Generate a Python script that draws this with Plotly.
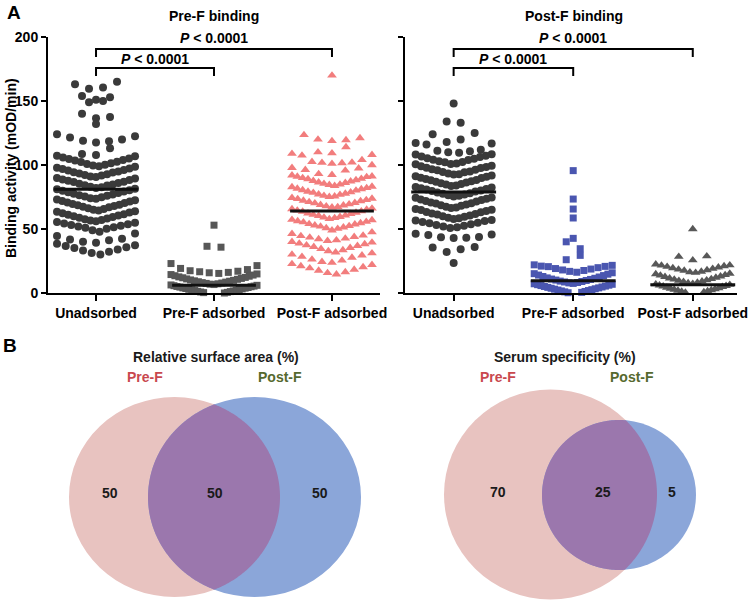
import numpy as np
import plotly.graph_objects as go

# ---------------- data ----------------
categories = ["Unadsorbed", "Pre-F adsorbed", "Post-F adsorbed"]
panel_titles = ["Pre-F binding", "Post-F binding"]
y_ticks = [0, 50, 100, 150, 200]
p_text = "<i>P</i> < 0.0001"

pref_unadsorbed = [
    165, 163, 160.5, 159.5, 154, 153, 151, 150, 149, 140, 137.5, 136.5, 132, 124, 122.5, 121.5,
    120, 119, 118.5, 117.5, 113, 108.5, 107.8, 107.2, 106.8,
    105.9, 105.1, 104.7, 103.9, 103.5, 102.6, 102.3, 101.4, 100.8, 100.2, 99.7, 99.0,
    98.6, 97.9, 97.3, 96.9, 96.1, 95.7, 95.0, 94.4, 94.1, 93.3, 92.8, 92.2,
    91.7, 91.0, 90.6, 89.8, 89.5, 88.7, 88.2, 87.6, 87.0, 86.7, 85.9, 85.4,
    84.8, 84.2, 83.9, 83.1, 82.6, 82.0, 81.5, 81.1, 80.3, 79.9, 79.2, 78.7,
    78.1, 77.6, 77.0, 76.4, 76.0, 75.3, 74.8, 74.1, 73.7, 73.0, 72.5, 71.9,
    71.4, 70.7, 70.3, 69.6, 69.0, 68.6, 67.9, 67.3, 66.9, 66.2, 65.6, 65.1,
    64.5, 63.9, 63.4, 62.8, 62.3, 61.6, 61.1, 60.6, 59.9, 59.4, 58.8, 58.3,
    57.7, 57.1, 56.6, 56.0, 55.5, 54.9, 54.3, 53.8, 53.1, 52.6, 52.0, 51.3,
    50.9, 50.1, 49.0, 47.8, 46.5, 44.6, 42.3, 41.8, 41.2,
    40.0, 39.3, 38.5, 37.4, 36.8, 35.7, 35.1, 34.0, 33.3, 32.2, 31.3, 30.1,
]
pref_preF_adsorbed = [
    53.0, 36.5, 35.8, 23.0, 21.4, 19.2, 18.3,
    17.4, 17.0, 16.6, 16.1, 15.8, 15.3, 14.9, 14.4, 14.0, 13.5, 13.1, 12.6,
    12.2, 11.9, 11.4, 11.0, 10.7, 10.2, 9.9, 9.5, 9.2, 8.8, 8.5, 8.1,
    7.8, 7.5, 7.2, 6.9, 6.6, 6.3, 6.0, 5.7, 5.4, 5.1, 4.9, 4.6,
    4.3, 4.0, 3.8, 3.5, 3.2, 2.9, 2.7, 2.4, 2.1, 1.9, 1.6, 1.3,
    1.1, 0.8, 0.5, 0.3, 0.0, -0.3, -0.6, -0.9, -1.3, -1.7, -2.2,
]
pref_postF_adsorbed = [
    170, 123.5, 121, 120, 119.5, 118.8, 114, 110, 109.2, 108.8, 108, 107.5, 104, 102.5,
    102, 101.8, 101.5, 101, 100, 97.8, 97.4, 96.2, 95.8, 91.2,
    93.0, 92.3, 91.9, 91.0, 90.7, 89.9, 89.3, 89.0, 88.2, 87.6, 87.3, 86.5,
    86.1, 85.4, 84.8, 84.5, 83.7, 83.2, 82.8, 82.1, 81.6, 81.2, 80.4, 80.1,
    79.3, 78.8, 78.4, 77.7, 77.1, 76.8, 76.0, 75.5, 75.1, 74.4, 73.8, 73.5,
    72.7, 72.2, 71.8, 71.1, 70.5, 70.2, 69.4, 68.9, 68.5, 67.8, 67.2, 66.9,
    66.1, 65.6, 65.2, 64.5, 63.9, 63.6, 62.8, 62.3, 61.9, 61.2, 60.6, 60.3,
    59.5, 59.0, 58.6, 57.9, 57.3, 57.0, 56.2, 55.7, 55.3, 54.6, 54.0, 53.7,
    52.9, 52.4, 52.0, 51.3, 50.7, 50.2,
    49.0, 47.5, 46.2, 45.0,
    44.6, 43.9, 43.4, 42.6, 42.1, 41.3, 40.8, 40.0, 39.5, 38.7, 38.2, 37.4, 36.9, 36.1,
    35.3, 34.5, 33.5, 32.8, 31.8, 31.1, 30.1, 29.4, 28.4, 27.7,
    26.2, 25.4, 24.4, 23.7, 22.7, 22.0, 21.0, 20.3, 19.4,
    18.3, 17.5, 16.4, 15.7, 14.6,
]
postf_unadsorbed = [
    148, 134, 133, 125, 124, 120, 118, 117.2, 116.8, 116,
    112.0, 111.1, 110.8, 109.9, 109.5, 108.4, 108.2, 107.3, 106.6, 106.3, 105.2, 104.9,
    104.1, 103.9, 103.0, 102.4, 102.1, 101.2, 100.8, 100.5, 99.4, 99.1, 98.5, 97.8,
    97.6, 96.7, 96.2, 95.9, 95.0, 94.6, 94.3, 93.4, 92.8, 92.6, 91.7, 91.2,
    90.9, 90.0, 89.8, 89.1, 88.3, 88.0, 87.4, 86.9, 86.3, 85.8, 85.1, 84.7,
    84.0, 83.6, 82.9, 82.5, 81.8, 81.3, 80.9, 80.1, 79.7, 79.2, 78.6, 78.0,
    77.5, 77.0, 76.4, 75.9, 75.3, 74.6, 74.4, 73.6, 73.0, 72.7, 71.9, 71.5,
    70.8, 70.2, 69.9, 69.1, 68.5, 68.2, 67.4, 66.8, 66.5, 65.7, 65.0, 64.8,
    64.0, 63.3, 63.1, 62.2, 61.7, 61.4, 60.5, 60.0, 59.6, 58.8, 58.4, 57.9,
    57.1, 56.6, 56.2, 55.5, 54.8, 54.5, 53.7, 53.2, 52.6, 52.0, 51.4, 50.7,
    46.2, 45.8, 45.4, 43.8, 43.5, 43.2, 42.9, 35.9, 35.5, 34.2, 32.1, 23.4,
]
postf_preF_adsorbed = [
    95.6, 73.4, 65.6, 58.6, 42.7, 40.0, 34.6, 29.4, 26.0, 22.0, 21.6, 20.8, 20.6, 21.0,
    19.8, 19.1, 18.7, 18.0, 17.6, 16.9, 16.2, 15.8, 15.1, 14.7, 14.0, 13.6,
    12.9, 12.5, 11.8, 11.5, 10.9, 10.6, 10.1, 9.8, 9.3, 9.0, 8.6, 8.2,
    7.9, 7.5, 7.2, 6.8, 6.5, 6.1, 5.8, 5.4, 5.1, 4.7, 4.4, 4.0,
    3.7, 3.3, 3.0, 2.6, 2.3, 1.9, 1.6, 1.2, 0.9, 0.5, 0.2, -0.2, -0.6, -1.1,
]
postf_postF_adsorbed = [
    50.0, 28.8, 28.4, 25.6, 22.4, 21.7,
    21.5, 21.0, 20.6, 20.1, 19.5, 19.0, 18.4, 17.9, 17.5, 16.8, 16.3, 15.9,
    15.2, 14.8, 14.1, 13.7, 13.0, 12.6, 12.1, 11.5, 11.0, 10.6, 10.0, 9.6,
    9.1, 8.7, 8.2, 7.8, 7.3, 6.9, 6.5, 6.0, 5.6, 5.2, 4.8, 4.3,
    3.9, 3.5, 3.1, 2.7, 2.3, 1.9, 1.5, 1.1, 0.7, 0.3, -0.1, -0.5, -1.0, -1.5,
]
pref_means = [81, 6, 64]
postf_means = [79, 9.5, 6.5]

venn_titles = ["Relative surface area (%)", "Serum specificity (%)"]
venn_set_names = ["Pre-F", "Post-F"]
venn_left_values = [50, 50, 50]
venn_right_values = [70, 25, 5]

# ---------------- styling / layout constants ----------------
W, H = 750, 601
FONT = "Liberation Sans, Arial, Helvetica, sans-serif"
PX_LEFT = (48, 380)
PX_RIGHT = (405, 737)
PY = (37, 293)          # top (200) , bottom (0)
XR_LEFT = [-0.407, 2.407]
XR_RIGHT = [-0.407, 2.370]
YR = [0, 200]
ROW_PX = 11.0           # GraphPad-like row height
MAX_STEP_PX = 14.0      # widest spacing in sparse rows

marker_styles = [
    [dict(symbol="circle", color="#3a3a3a", size=8, width=78),
     dict(symbol="square", color="#575757", size=7, width=86),
     dict(symbol="triangle-up", color="#F27D7D", size=8.5, width=80)],
    [dict(symbol="circle", color="#3a3a3a", size=8, width=76),
     dict(symbol="square", color="#4A56B0", size=7, width=78),
     dict(symbol="triangle-up", color="#585858", size=8.5, width=74)],
]

ypx_per_unit = (PY[1] - PY[0]) / (YR[1] - YR[0])


def row_swarm(values, max_width):
    """GraphPad-like scatter: points binned in rows, lowest value in the middle."""
    vals = np.asarray(values, float)
    h = ROW_PX / ypx_per_unit
    rows = np.floor((vals - vals.min()) / h).astype(int)
    xs = np.zeros(len(vals))
    for r in np.unique(rows):
        idx = np.where(rows == r)[0]
        idx = idx[np.argsort(vals[idx], kind="stable")]
        n = len(idx)
        d = 0.0 if n < 2 else min(MAX_STEP_PX, max_width / (n - 1))
        slots = (np.arange(n) - (n - 1) / 2.0) * d
        order = sorted(range(n), key=lambda k: (round(abs(slots[k]), 6), slots[k] * (1 if r % 2 else -1)))
        for j, k in enumerate(order):
            xs[idx[j]] = slots[k]
    return xs


fig = go.Figure()

panels = [
    dict(xa="x", ya="y", px=PX_LEFT, xr=XR_LEFT,
         data=[pref_unadsorbed, pref_preF_adsorbed, pref_postF_adsorbed], means=pref_means),
    dict(xa="x2", ya="y2", px=PX_RIGHT, xr=XR_RIGHT,
         data=[postf_unadsorbed, postf_preF_adsorbed, postf_postF_adsorbed], means=postf_means),
]

shapes = []
annotations = []

for pi, p in enumerate(panels):
    xpx_per_unit = (p["px"][1] - p["px"][0]) / (p["xr"][1] - p["xr"][0])
    for ci, vals in enumerate(p["data"]):
        ms = marker_styles[pi][ci]
        offs = row_swarm(vals, ms["width"]) / xpx_per_unit
        fig.add_trace(go.Scatter(
            x=ci + offs, y=vals, mode="markers", xaxis=p["xa"], yaxis=p["ya"],
            marker=dict(symbol=ms["symbol"], color=ms["color"], size=ms["size"], line=dict(width=0)),
            cliponaxis=False, showlegend=False, hoverinfo="skip"))
    for ci, m in enumerate(p["means"]):
        fig.add_trace(go.Scatter(
            x=[ci - 0.355, ci + 0.355], y=[m, m], mode="lines", xaxis=p["xa"], yaxis=p["ya"],
            line=dict(color="#111111", width=3), cliponaxis=False, showlegend=False, hoverinfo="skip"))
    brackets = [(0, 2, 190.6, 184.4, 199.0), (0, 1, 175.8, 169.5, 182.8)]
    for (a, b, yb, yl, yt) in brackets:
        shapes.append(dict(type="path", xref=p["xa"], yref=p["ya"],
                           path=f"M {a},{yl} L {a},{yb} L {b},{yb} L {b},{yl}",
                           line=dict(color="black", width=2)))
        annotations.append(dict(x=(a + b) / 2, y=yt, xref=p["xa"], yref=p["ya"], text=f"<b>{p_text}</b>",
                                showarrow=False, font=dict(size=14, color="black", family=FONT),
                                xanchor="center", yanchor="middle"))

fig.add_trace(go.Scatter(x=[0], y=[0], xaxis="x3", yaxis="y3", mode="markers",
                         marker=dict(opacity=0), showlegend=False, hoverinfo="skip"))

PINK = "#E8C3C0"
BLUE = "#8BA6D9"
PURPLE = "#9B77AD"


def ellipse_pts(cx, cy, rx, ry, n=720):
    t = np.linspace(0, 2 * np.pi, n, endpoint=False)
    return cx + rx * np.cos(t), cy + ry * np.sin(t)


def inside(x, y, cx, cy, rx, ry):
    return ((x - cx) / rx) ** 2 + ((y - cy) / ry) ** 2 <= 1.0


venns = [
    dict(a=(174.5, 497, 105.5, 100), b=(254.5, 497, 106.5, 100), title_xy=(216, 357),
         names_xy=[(145, 377), (280, 377)], vals=venn_left_values,
         vals_x=[110, 215, 320], vals_y=493, title=venn_titles[0]),
    dict(a=(550.5, 494.5, 106.5, 105), b=(619, 495, 77, 75), title_xy=(565, 357),
         names_xy=[(498, 377), (632, 377)], vals=venn_right_values,
         vals_x=[498, 603, 672], vals_y=492, title=venn_titles[1]),
]
for v in venns:
    for (cx, cy, rx, ry), col in [(v["a"], PINK), (v["b"], BLUE)]:
        shapes.append(dict(type="circle", xref="x3", yref="y3", x0=cx - rx, x1=cx + rx,
                           y0=cy - ry, y1=cy + ry, fillcolor=col, line=dict(width=0), layer="above"))
    ax, ay = ellipse_pts(*v["a"])
    bx, by = ellipse_pts(*v["b"])
    m1 = inside(ax, ay, *v["b"])
    m2 = inside(bx, by, *v["a"])
    lx = np.concatenate([ax[m1], bx[m2]])
    ly = np.concatenate([ay[m1], by[m2]])
    cxm, cym = lx.mean(), ly.mean()
    o = np.argsort(np.arctan2(ly - cym, lx - cxm))
    lx, ly = lx[o], ly[o]
    path = "M " + " L ".join(f"{x:.2f},{y:.2f}" for x, y in zip(lx, ly)) + " Z"
    shapes.append(dict(type="path", xref="x3", yref="y3", path=path, fillcolor=PURPLE,
                       line=dict(width=0), layer="above"))
    annotations.append(dict(x=v["title_xy"][0], y=v["title_xy"][1], xref="x3", yref="y3",
                            text=f"<b>{v['title']}</b>", showarrow=False,
                            font=dict(size=14, color="#1a1a1a", family=FONT)))
    for (nx, ny), name, col in zip(v["names_xy"], venn_set_names, ["#C9484E", "#56692E"]):
        annotations.append(dict(x=nx, y=ny, xref="x3", yref="y3", text=f"<b>{name}</b>", showarrow=False,
                                font=dict(size=14, color=col, family=FONT)))
    for xv, val in zip(v["vals_x"], v["vals"]):
        annotations.append(dict(x=xv, y=v["vals_y"], xref="x3", yref="y3", text=f"<b>{val}</b>",
                                showarrow=False, font=dict(size=14, color="#1a1a1a", family=FONT)))

for t, xc in zip(panel_titles, [214, 574]):
    annotations.append(dict(x=xc, y=16, xref="x3", yref="y3", text=f"<b>{t}</b>", showarrow=False,
                            font=dict(size=14, color="black", family=FONT)))
annotations.append(dict(x=14, y=12, xref="x3", yref="y3", text="<b>A</b>", showarrow=False,
                        font=dict(size=19, color="black", family=FONT)))
annotations.append(dict(x=10, y=345, xref="x3", yref="y3", text="<b>B</b>", showarrow=False,
                        font=dict(size=19, color="black", family=FONT)))
annotations.append(dict(x=11, y=168, xref="x3", yref="y3", text="<b>Binding activity (mOD/min)</b>",
                        showarrow=False, textangle=-90, font=dict(size=14, color="black", family=FONT)))

ydom = [1 - PY[1] / H, 1 - PY[0] / H]
axis_common = dict(showgrid=False, zeroline=False, showline=True, linecolor="black", linewidth=2,
                   ticks="outside", tickcolor="black", tickwidth=2, fixedrange=True, automargin=False)
tickfont = dict(size=14, color="black", family=FONT, weight="bold")

fig.update_layout(
    width=W, height=H, margin=dict(l=0, r=0, t=0, b=0, autoexpand=False),
    paper_bgcolor="white", plot_bgcolor="rgba(0,0,0,0)",
    xaxis=dict(domain=[PX_LEFT[0] / W, PX_LEFT[1] / W], range=XR_LEFT, anchor="y",
               tickvals=[0, 1, 2], ticktext=categories, ticklen=6, tickfont=tickfont, **axis_common),
    yaxis=dict(domain=ydom, range=YR, anchor="x", tickvals=y_ticks, ticklen=5,
               tickfont=tickfont, **axis_common),
    xaxis2=dict(domain=[PX_RIGHT[0] / W, PX_RIGHT[1] / W], range=XR_RIGHT, anchor="y2",
                tickvals=[0, 1, 2], ticktext=categories, ticklen=6, tickfont=tickfont, **axis_common),
    yaxis2=dict(domain=ydom, range=YR, anchor="x2", tickvals=y_ticks, ticklen=5,
                showticklabels=False, **axis_common),
    xaxis3=dict(domain=[0, 1], range=[0, W], anchor="y3", visible=False, fixedrange=True, automargin=False),
    yaxis3=dict(domain=[0, 1], range=[H, 0], anchor="x3", visible=False, fixedrange=True, automargin=False),
    shapes=shapes, annotations=annotations,
)

fig.write_html("out.html", config={"displayModeBar": False},
               post_script="document.body.style.margin='0px';document.body.style.overflow='hidden';")
